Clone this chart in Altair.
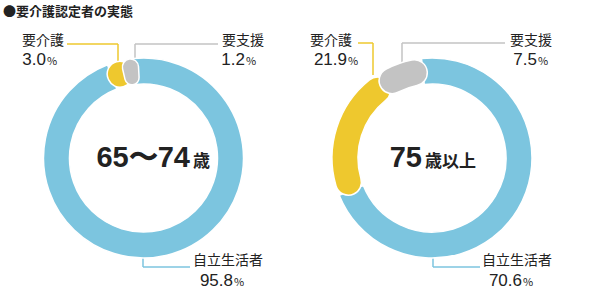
import math
import altair as alt
import pandas as pd

# ---------------- data ----------------
title_text = "●要介護認定者の実態"
categories = ["自立生活者", "要介護", "要支援"]
colors = ["#7cc5df", "#eec82e", "#c3c3c3"]
group_main = ["65〜74", "75"]
group_suffix = ["歳", "歳以上"]
values_65_74 = [95.8, 3.0, 1.2]
values_75 = [70.6, 21.9, 7.5]
all_values = [values_65_74, values_75]

# ---------------- layout ----------------
W, H = 590, 300
FONT = "Noto Sans CJK JP"
NUMFONT = "Liberation Sans"
TXT = "#222222"
centers = [(143.5, 158), (432, 158)]
R_OUT, R_IN = 100, 74
OFFSET = -0.105          # start angle of the ring (radians)
EXT = 0.8                # overlap of rounded segments (percent units)

# label anchors per donut, per category: (name_x, name_baseline, num_right, num_baseline)
label_pos = [
    [(193, 265, 233, 286), (22, 45, 46, 65), (222, 45, 245, 65)],
    [(482, 265, 522, 286), (310, 45, 347, 65), (510, 45, 537, 65)],
]
# leader polylines per donut, per category
leaders = [
    [[(143, 253), (143, 267), (190, 267)],
     [(118, 62), (118, 44), (67, 44)],
     [(135, 62), (135, 44), (218, 44)]],
    [[(433, 253), (433, 267), (480, 267)],
     [(373, 75), (373, 43), (358, 43)],
     [(402, 65), (402, 43), (505, 43)]],
]
center_text_pos = [(190, 167), (422, 167)]

theta_scale = alt.Scale(domain=[0, 100], range=[OFFSET, OFFSET + 2 * math.pi])
color_scale = alt.Scale(domain=categories, range=colors)

layers = []

# leader lines (drawn first, under the rings)
for d in range(2):
    for c in range(3):
        pts = leaders[d][c]
        for (x1, y1), (x2, y2) in zip(pts[:-1], pts[1:]):
            layers.append(
                alt.Chart(pd.DataFrame({"k": [0]})).mark_rule(
                    color=colors[c], strokeWidth=1.5
                ).encode(
                    x=alt.value(x1), x2=alt.value(x2),
                    y=alt.value(y1), y2=alt.value(y2),
                )
            )

# rings
for d in range(2):
    vals = all_values[d]
    ends = []
    acc = 0.0
    for v in vals:
        acc += v
        ends.append(acc)
    starts = [e - v for e, v in zip(ends, vals)]
    cx, cy = centers[d]
    for c in range(3):
        ext = 0 if c == 0 else EXT
        df = pd.DataFrame({
            "cat": [categories[c]],
            "s": [starts[c] - ext],
            "e": [ends[c] + ext],
        })
        layers.append(
            alt.Chart(df).mark_arc(
                radius=R_OUT, radius2=R_IN,
                cornerRadius=0 if c == 0 else 13,
                stroke="white", strokeWidth=1.5,
            ).encode(
                theta=alt.Theta("s:Q", stack=None, scale=theta_scale),
                theta2="e:Q",
                color=alt.Color("cat:N", scale=color_scale, legend=None),
                x=alt.value(cx), y=alt.value(cy),
            )
        )

def text_layer(txt, x, y, size, align="left", bold=False, font=FONT):
    return alt.Chart(pd.DataFrame({"t": [txt]})).mark_text(
        align=align, baseline="alphabetic", font=font, fontSize=size,
        fontWeight="bold" if bold else "normal", color=TXT,
    ).encode(text="t:N", x=alt.value(x), y=alt.value(y))

# labels
for d in range(2):
    for c in range(3):
        nx, ny, rx, rb = label_pos[d][c]
        layers.append(text_layer(categories[c], nx, ny, 14))
        layers.append(text_layer(f"{all_values[d][c]:.1f}", rx, rb, 17,
                                 align="right", font=NUMFONT))
        layers.append(text_layer("%", rx + 1, rb, 11))

# center texts
for d in range(2):
    tx, ty = center_text_pos[d]
    layers.append(text_layer(group_main[d], tx, ty, 29, align="right",
                             bold=True, font=NUMFONT))
    layers.append(text_layer(group_suffix[d], tx + 3, ty, 17, bold=True))

# title
layers.append(text_layer(title_text, 3, 16, 13, bold=True))

chart = alt.layer(*layers).properties(
    width=W, height=H,
    autosize=alt.AutoSizeParams(type="none"),
    padding=0,
    background="white",
).configure_view(stroke=None)

chart.save("out.html", embed_options={"renderer": "svg", "actions": False})
